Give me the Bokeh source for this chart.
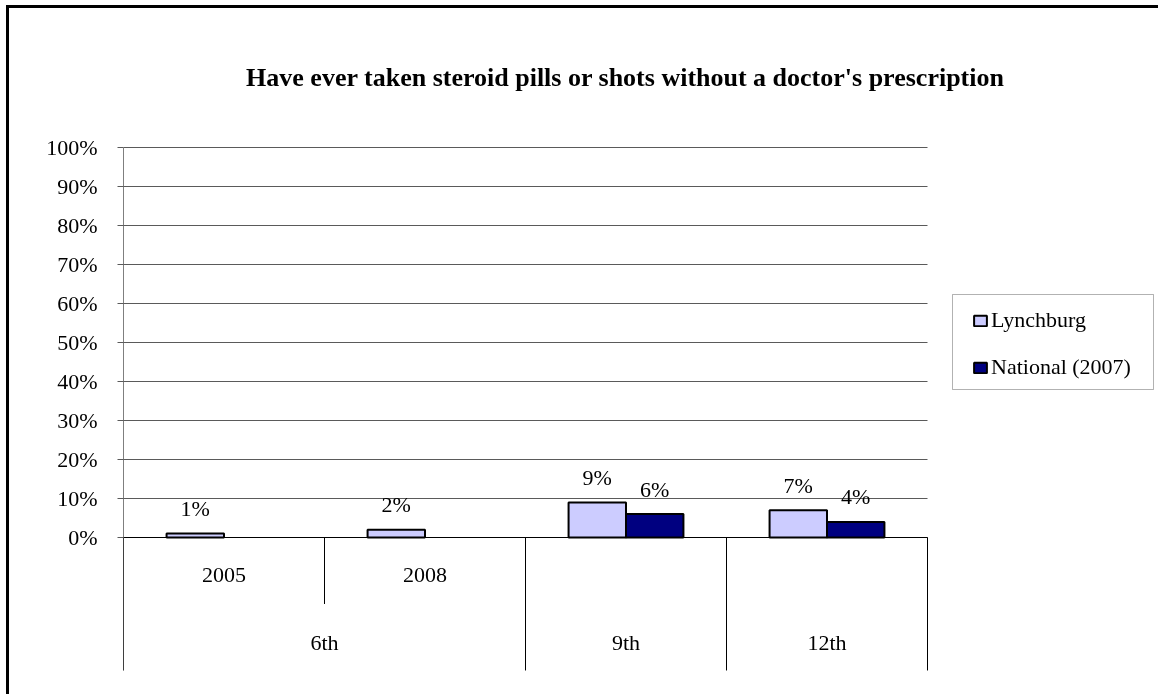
from bokeh.plotting import figure
from bokeh.models import (Range1d, FixedTicker, PrintfTickFormatter, Legend,
                          LegendItem, Label, BoxAnnotation)
from bokeh.core.properties import value
from bokeh.embed import file_html
from bokeh.resources import INLINE

# ---------------- data ----------------
chart_title = "Have ever taken steroid pills or shots without a doctor's prescription"
grades = ["6th", "6th", "9th", "12th"]
years = ["2005", "2008", "", ""]
lynchburg = [1, 2, 9, 7]
national = [None, None, 6, 4]
series_names = ["Lynchburg", "National (2007)"]
y_ticks = [0, 10, 20, 30, 40, 50, 60, 70, 80, 90, 100]

# ---------------- layout / style ----------------
FONT = "Liberation Serif"
FS = "22px"
C_LYN = "#CCCCFF"
C_NAT = "#000080"
GRID = "#5a5a5a"

W, H = 1162, 700          # canvas size (runs past the window on the right/bottom)
LEFT = 114                # canvas x of the value axis
PX_X = 201.0              # pixels per category
PX_Y = 3.9                # pixels per percentage point
Y100 = 139                # canvas y of the 100% line
CAT_DEPTH = 34.1          # depth of the category rows below 0, in % units

n = len(grades)
bar_w = 1 / 3.5
y_top = 100 + Y100 / PX_Y
y_zero_px = Y100 + 100 * PX_Y
y_bot = -(H - y_zero_px) / PX_Y
x_end = (W - LEFT) / PX_X

p = figure(width=W, height=H, output_backend="svg", toolbar_location=None,
           title_location=None,
           x_range=Range1d(0, x_end), y_range=Range1d(y_bot, y_top),
           x_axis_location=None,
           min_border_left=LEFT, min_border_right=0,
           min_border_top=0, min_border_bottom=0)
p.outline_line_color = None
p.background_fill_color = "white"
p.border_fill_color = "white"
# the outer chart frame: only its left and top edges fall inside the view
p.styles = {"position": "fixed", "left": "9px", "top": "8px",
            "box-shadow": "-3px -3px 0px 0px black"}

# y axis (ticks + labels from Bokeh; its line is drawn below, 0..100 + category rows)
yax = p.yaxis[0]
yax.ticker = FixedTicker(ticks=y_ticks)
yax.formatter = PrintfTickFormatter(format="%d%%")
yax.major_tick_in = 0
yax.major_tick_out = 6
yax.minor_tick_line_color = None
yax.axis_line_color = None
yax.major_tick_line_color = GRID
yax.major_label_text_font = FONT
yax.major_label_text_font_size = FS
yax.major_label_text_color = "black"
yax.major_label_standoff = 20

p.xgrid.visible = False
p.ygrid.visible = False

# horizontal gridlines across the category span only
p.segment(x0=[0] * len(y_ticks), y0=y_ticks, x1=[n] * len(y_ticks), y1=y_ticks,
          line_color=GRID, line_width=1)
p.segment(x0=[0], y0=[0], x1=[n], y1=[0], line_color="black", line_width=1)
# value axis line
p.segment(x0=[0], y0=[-CAT_DEPTH], x1=[0], y1=[max(y_ticks)],
          line_color="black", line_width=1)

# bars
xl = [i + 0.5 - bar_w / 2 for i in range(n)]
r_l = p.vbar(x=xl, top=lynchburg, bottom=0, width=bar_w,
             fill_color=C_LYN, line_color="black", line_width=2)
nat_idx = [i for i in range(n) if national[i] is not None]
xn = [i + 0.5 + bar_w / 2 for i in nat_idx]
nv = [national[i] for i in nat_idx]
r_n = p.vbar(x=xn, top=nv, bottom=0, width=bar_w,
             fill_color=C_NAT, line_color="black", line_width=2)

# value labels
lab_kw = dict(text_align="center", text_baseline="middle",
              text_font=value(FONT), text_font_size=FS, text_color="black")
p.text(x=xl, y=lynchburg, text=[f"{v}%" for v in lynchburg], y_offset=-25, **lab_kw)
p.text(x=xn, y=nv, text=[f"{v}%" for v in nv], y_offset=-25, **lab_kw)

# category axis: year row
yi = [i for i in range(n) if years[i]]
p.text(x=[i + 0.5 for i in yi], y=[0] * len(yi), text=[years[i] for i in yi],
       y_offset=37, **lab_kw)

# grade row (group centres)
groups = []
for i, g in enumerate(grades):
    if groups and groups[-1][0] == g:
        groups[-1][2] = i + 1
    else:
        groups.append([g, i, i + 1])
p.text(x=[(a + b) / 2 for _, a, b in groups], y=[0] * len(groups),
       text=[g for g, _, _ in groups], y_offset=105, **lab_kw)

# category separators
bx, by = [], []
for b in range(n + 1):
    inner = 0 < b < n and grades[b - 1] == grades[b]
    bx.append(b)
    by.append(-CAT_DEPTH / 2 if inner else -CAT_DEPTH)
p.segment(x0=bx, y0=[0] * len(bx), x1=bx, y1=by, line_color="black", line_width=1)

# title (screen units relative to the frame's bottom-left)
p.add_layout(Label(x=502, y=H - 69, x_units="screen", y_units="screen",
                   text=chart_title, text_align="center", text_baseline="middle",
                   text_font=FONT, text_font_style="bold", text_font_size="26px",
                   text_color="black"))

# legend box + legend
p.add_layout(BoxAnnotation(left=829, right=1030, bottom=H - 381, top=H - 286,
                           left_units="screen", right_units="screen",
                           top_units="screen", bottom_units="screen",
                           fill_color="white", fill_alpha=1,
                           line_color="black", line_width=1))
leg = Legend(items=[LegendItem(label=series_names[0], renderers=[r_l]),
                    LegendItem(label=series_names[1], renderers=[r_n])],
             location=(849, H - 372), orientation="vertical",
             label_text_font=FONT, label_text_font_size=FS, label_text_color="black",
             border_line_color=None, background_fill_alpha=0,
             padding=0, spacing=21, margin=0,
             glyph_width=16, glyph_height=13, label_standoff=3)
p.add_layout(leg)

open("out.html", "w").write(file_html(p, INLINE))
